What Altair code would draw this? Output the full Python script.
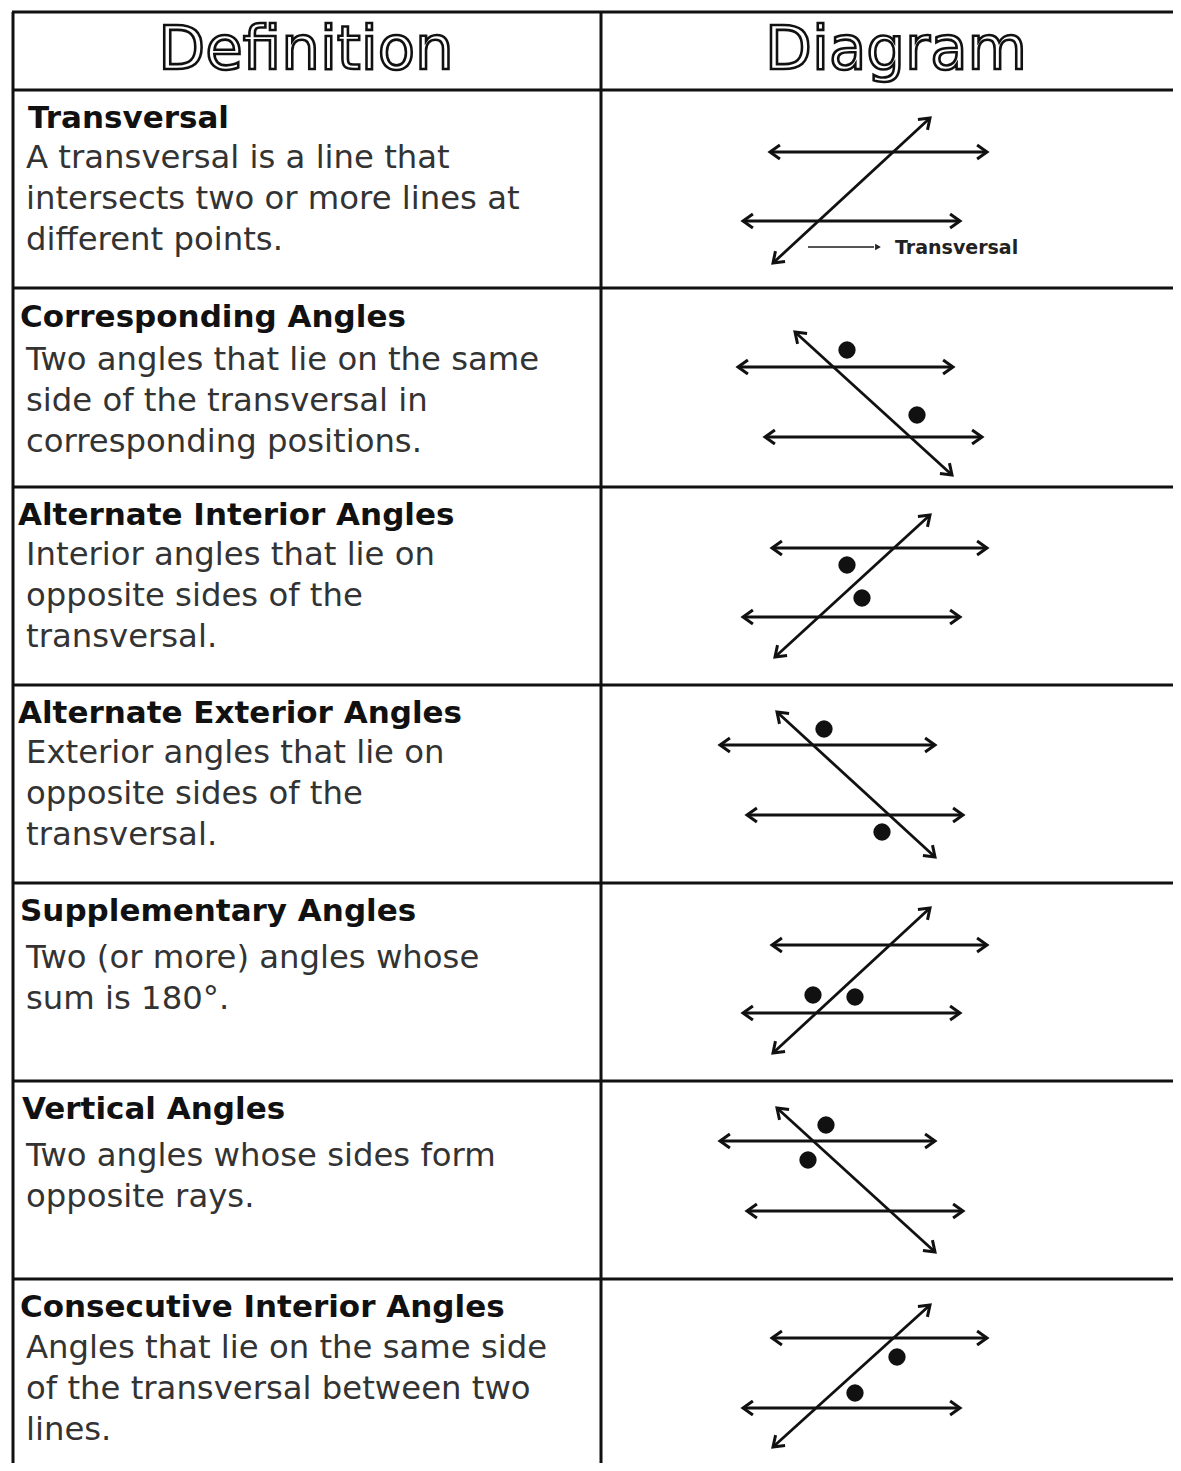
import math
import altair as alt
import pandas as pd

# ---------------- data ----------------
header_texts = ["Definition", "Diagram"]
header_x = [306, 896]
header_y = [69, 69]

row_titles = [
    "Transversal",
    "Corresponding Angles",
    "Alternate Interior Angles",
    "Alternate Exterior Angles",
    "Supplementary Angles",
    "Vertical Angles",
    "Consecutive Interior Angles",
]
title_x = [28, 20, 18, 18, 20, 22, 20]
title_y = [128, 327, 525, 723, 921, 1119, 1317]

body_lines = [
    ["A transversal is a line that", "intersects two or more lines at", "different points."],
    ["Two angles that lie on the same", "side of the transversal in", "corresponding positions."],
    ["Interior angles that lie on", "opposite sides of the", "transversal."],
    ["Exterior angles that lie on", "opposite sides of the", "transversal."],
    ["Two (or more) angles whose", "sum is 180°."],
    ["Two angles whose sides form", "opposite rays."],
    ["Angles that lie on the same side", "of the transversal between two", "lines."],
]
body_y = [
    [168, 209, 250],
    [370, 411, 452],
    [565, 606, 647],
    [763, 804, 845],
    [968, 1009],
    [1166, 1207],
    [1358, 1399, 1440],
]
body_x = 26

# table grid
h_rule_y = [12, 90, 288, 487, 685, 883, 1081, 1279]
v_rule_x = [13, 601]

# diagrams: (x_left, x_right, y) of the two parallel lines
upper_lines = [(770, 987, 152), (738, 953, 367), (772, 987, 548), (720, 935, 745),
               (772, 987, 945), (720, 935, 1141), (772, 987, 1338)]
lower_lines = [(743, 960, 221), (765, 982, 437), (743, 960, 617), (747, 963, 815),
               (743, 960, 1013), (747, 963, 1211), (743, 960, 1408)]
# transversals: start point, end point
transversals = [((773, 263), (930, 118)), ((795, 332), (952, 475)), ((775, 657), (930, 515)),
                ((777, 712), (935, 857)), ((773, 1053), (930, 908)), ((777, 1108), (935, 1252)),
                ((773, 1447), (930, 1305))]
# angle marker dots
dots_x = [847, 917, 847, 862, 824, 882, 813, 855, 826, 808, 897, 855]
dots_y = [350, 415, 565, 598, 729, 832, 995, 997, 1125, 1160, 1357, 1393]

# label in first diagram
label_text = ["Transversal"]
label_x = [895]
label_y = [254]
pointer_line = (808, 874, 247)

# ---------------- build tables ----------------
X0, X1, Y0, Y1 = 8, 1173, 8, 1463
xs = alt.Scale(domain=[X0, X1], nice=False, zero=False)
ys = alt.Scale(domain=[Y0, Y1], nice=False, zero=False, reverse=True)

grid = []
for y in h_rule_y:
    grid.append({"x": 12, "x2": X1, "y": y, "y2": y})
for x in v_rule_x:
    grid.append({"x": x, "x2": x, "y": 12, "y2": Y1})
grid_df = pd.DataFrame(grid)

segs, heads = [], []
for (xl, xr, y) in upper_lines + lower_lines:
    segs.append({"x": xl, "x2": xr, "y": y, "y2": y, "w": 3.2})
    heads.append({"x": xl, "y": y, "ang": 180})
    heads.append({"x": xr, "y": y, "ang": 0})
for (p, q) in transversals:
    segs.append({"x": p[0], "x2": q[0], "y": p[1], "y2": q[1], "w": 2.8})
    a_end = math.degrees(math.atan2(q[1] - p[1], q[0] - p[0])) % 360
    a_start = (a_end + 180) % 360
    heads.append({"x": q[0], "y": q[1], "ang": a_end})
    heads.append({"x": p[0], "y": p[1], "ang": a_start})
seg_df = pd.DataFrame(segs)
head_df = pd.DataFrame(heads)

dots_df = pd.DataFrame({"x": dots_x, "y": dots_y})

hdr_df = pd.DataFrame({"x": header_x, "y": header_y, "t": header_texts})
title_df = pd.DataFrame({"x": title_x, "y": title_y, "t": row_titles})
body_rows = []
for lines, ys_ in zip(body_lines, body_y):
    for t, y in zip(lines, ys_):
        body_rows.append({"x": body_x, "y": y, "t": t})
body_df = pd.DataFrame(body_rows)

label_df = pd.DataFrame({"x": label_x, "y": label_y, "t": label_text})
ptr_df = pd.DataFrame({"x": [pointer_line[0]], "x2": [pointer_line[1]],
                       "y": [pointer_line[2]], "y2": [pointer_line[2]]})
ptr_head_df = pd.DataFrame({"x": [pointer_line[1] + 4], "y": [pointer_line[2]]})

X = lambda f="x": alt.X(f"{f}:Q", scale=xs, axis=None)
Y = lambda f="y": alt.Y(f"{f}:Q", scale=ys, axis=None)

grid_layer = alt.Chart(grid_df).mark_rule(color="#111", strokeWidth=3).encode(
    x=X(), x2="x2:Q", y=Y(), y2="y2:Q")

seg_layer = alt.Chart(seg_df).mark_rule(color="#111").encode(
    x=X(), x2="x2:Q", y=Y(), y2="y2:Q",
    strokeWidth=alt.StrokeWidth("w:Q", scale=None))

head_layer = alt.Chart(head_df).mark_point(
    shape="M-1.4,-1L0,0L-1.4,1", filled=False, color="#111", strokeWidth=3,
    size=200, opacity=1, strokeJoin="miter").encode(
    x=X(), y=Y(), angle=alt.Angle("ang:Q", scale=None))

dot_layer = alt.Chart(dots_df).mark_circle(color="#111", size=300, opacity=1).encode(
    x=X(), y=Y())

hdr_layer = alt.Chart(hdr_df).mark_text(
    font="DejaVu Sans", fontSize=61, align="center", baseline="alphabetic",
    fill="white", stroke="#111", strokeWidth=2.6).encode(
    x=X(), y=Y(), text="t:N")

title_layer = alt.Chart(title_df).mark_text(
    font="DejaVu Sans", fontSize=31, fontWeight="bold", align="left",
    baseline="alphabetic", color="#111").encode(x=X(), y=Y(), text="t:N")

body_layer = alt.Chart(body_df).mark_text(
    font="DejaVu Sans", fontSize=32.3, align="left",
    baseline="alphabetic", color="#333").encode(x=X(), y=Y(), text="t:N")

ptr_layer = alt.Chart(ptr_df).mark_rule(color="#555", strokeWidth=1.8).encode(
    x=X(), x2="x2:Q", y=Y(), y2="y2:Q")
ptr_head_layer = alt.Chart(ptr_head_df).mark_point(
    shape="triangle-right", filled=True, color="#222", size=45, opacity=1).encode(
    x=X(), y=Y())
label_layer = alt.Chart(label_df).mark_text(
    font="DejaVu Sans", fontSize=19, fontWeight="bold", align="left",
    baseline="alphabetic", color="#222").encode(x=X(), y=Y(), text="t:N")

chart = alt.layer(
    grid_layer, seg_layer, head_layer, dot_layer, hdr_layer, title_layer,
    body_layer, ptr_layer, ptr_head_layer, label_layer
).properties(
    width=X1 - X0, height=Y1 - Y0, padding=0, autosize="none", background="white"
).configure_view(stroke=None)

chart.save("out.html", embed_options={"renderer": "svg", "actions": False})
